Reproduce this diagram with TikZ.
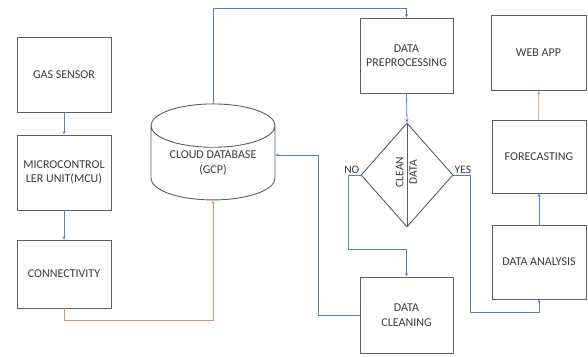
\documentclass[tikz,border=0pt]{standalone}
\usepackage{fontspec}
\setmainfont{Carlito}
\usepackage{xcolor}
\usetikzlibrary{arrows.meta, shapes.geometric, positioning, calc}

\definecolor{boxline}{HTML}{5E5E5E}
\definecolor{boxtext}{HTML}{3A3A3A}
\definecolor{flowblue}{HTML}{5B80B8}
\definecolor{feedorange}{HTML}{D8946A}

\begin{document}
\begin{tikzpicture}[
		x=1pt, y=-1pt,
		>={Stealth[length=3.5pt,width=3pt]},
		every node/.style={text=boxtext, font=\fontsize{12}{14.5}\selectfont},
		box/.style={draw=boxline, line width=0.9pt, align=center, inner sep=2pt},
		flow/.style={->, draw=flowblue, line width=0.8pt},
		feed/.style={->, draw=feedorange, line width=0.8pt}
		]
		
		\useasboundingbox (0,0) rectangle (588,356);
		
		% ==========================================
		% SENSOR SIDE
		% ==========================================
		\node[box, minimum width=94, minimum height=75] (gas) at (64,74.5) {GAS SENSOR};
		\node[box, minimum width=94, minimum height=75] (mcu) at (64,172.5) {MICROCONTROL\\LER UNIT(MCU)};
		\node[box, minimum width=94, minimum height=68] (conn) at (64,274) {CONNECTIVITY};
		
		% ==========================================
		% CLOUD STORAGE
		% ==========================================
		\node[cylinder, shape border rotate=90, draw=boxline, line width=0.9pt, align=center,
		aspect=0.5, minimum width=124, minimum height=96, inner sep=0pt] (cloud) at (213,163)
		{CLOUD DATABASE\\(GCP)};
		
		% ==========================================
		% PROCESSING CHAIN
		% ==========================================
		\node[box, minimum width=93, minimum height=75] (prep) at (406.5,55.5) {DATA\\PREPROCESSING};
		\node[diamond, draw=boxline, line width=0.9pt, minimum width=92, minimum height=104, inner sep=0pt] (check) at (407,175) {};
		\draw[boxline, line width=0.9pt] (check.north) -- (check.south);
		\node[rotate=90, align=center, font=\fontsize{11.5}{13.5}\selectfont] (checklbl) at (406.5,172) {CLEAN\\DATA};
		\node[above left=0pt and 0pt of check.west, font=\fontsize{11.5}{13.5}\selectfont, inner sep=1pt] (no) {NO};
		\node[above right=0pt and 0pt of check.east, font=\fontsize{11.5}{13.5}\selectfont, inner sep=1pt] (yes) {YES};
		\node[box, minimum width=93, minimum height=76] (clean) at (406.5,315) {DATA\\CLEANING};
		
		% ==========================================
		% OUTPUT SIDE
		% ==========================================
		\node[box, minimum width=95, minimum height=75] (web) at (538.5,52.5) {WEB APP};
		\node[box, minimum width=94, minimum height=73] (fore) at (539,156.5) {FORECASTING};
		\node[box, minimum width=94, minimum height=74] (ana) at (539,262) {DATA ANALYSIS};
		
		% bend points
		\coordinate (top) at (0,8);
		\coordinate (nobend) at (348,249);
		\coordinate (backbend) at (318,155);
		\coordinate (yesbend) at (470,312);
		\coordinate (low) at (0,320);
		
		% ==========================================
		% CONNECTORS
		% ==========================================
		\draw[flow] (gas) -- (mcu);
		\draw[flow] (mcu) -- (conn);
		\draw[feed] (conn.south) -- (conn.south |- low) -| (cloud.270);
		\draw[flow] (cloud.90) -- (cloud.90 |- top) -| (prep.north);
		\draw[flow] (prep.south) -- (check.north);
		\draw[flow] (check.west) -| (nobend) -| (clean.north);
		\draw[flow] (clean.west) -| (backbend) -- (cloud.0 |- backbend);
		\draw[flow] (check.east) -| (yesbend) -| (ana.south);
		\draw[flow] (ana) -- (fore);
		\draw[feed] (fore) -- (web);
		
	\end{tikzpicture}
\end{document}
